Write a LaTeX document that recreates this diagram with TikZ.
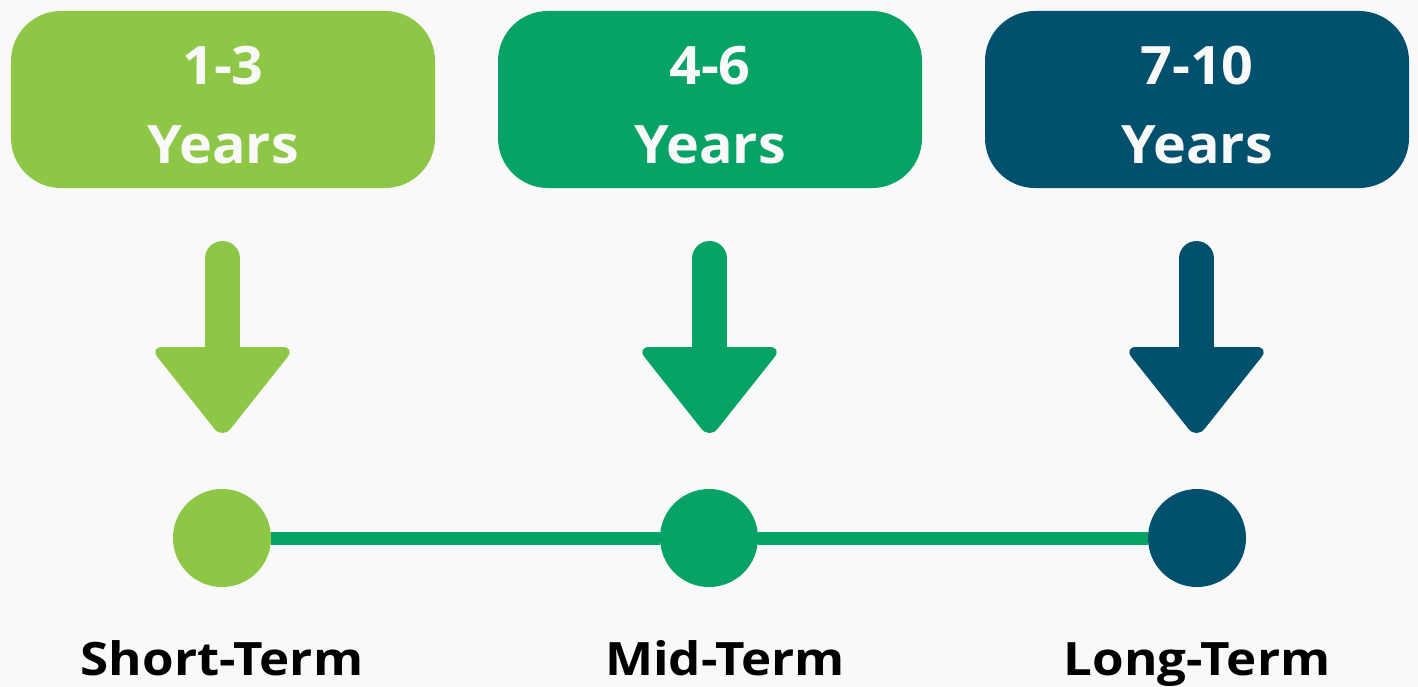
\documentclass[tikz,border=0pt]{standalone}
\usepackage{fontspec}
\setmainfont{Open Sans}
\newfontfamily\boxfont{Open Sans}[FakeStretch=1.05]
\newfontfamily\lblfont{Open Sans}[FakeStretch=1.11]
\definecolor{cA}{HTML}{8DC745}
\definecolor{cB}{HTML}{07A265}
\definecolor{cC}{HTML}{00506E}
\definecolor{bg}{HTML}{F9F9F9}
\begin{document}
\begin{tikzpicture}[x=1bp,y=-1bp,
  box/.style={rounded corners=50bp, minimum width=424bp, minimum height=177bp, inner sep=0pt},
  boxtext/.style={anchor=base, text=bg, font=\boxfont\fontsize{53bp}{60bp}\selectfont\bfseries, inner sep=0pt},
  dot/.style={circle, minimum size=98bp, inner sep=0pt},
  label/.style={anchor=base, text=black, font=\lblfont\fontsize{46bp}{54bp}\selectfont\bfseries, inner sep=0pt},
  shaft/.style={line width=35bp, line cap=round},
  head/.style={rounded corners=13bp}
]
\fill[bg] (0,0) rectangle (1418,687);
\useasboundingbox (0,0) rectangle (1418,687);

% boxes
\node[box, fill=cA] (b1) at (223,99.5) {};
\node[box, fill=cB] (b2) at (710,99.5) {};
\node[box, fill=cC] (b3) at (1197,99.5) {};
\node[boxtext] (n1) at (223,85) {1-3};
\node[boxtext] (y1) at (223,163) {Years};
\node[boxtext] (n2) at (710,85) {4-6};
\node[boxtext] (y2) at (710,163) {Years};
\node[boxtext] (n3) at (1197,85) {7-10};
\node[boxtext] (y3) at (1197,163) {Years};

% arrows
\foreach \x/\c in {222.5/cA, 709.5/cB, 1196.5/cC}{
  \draw[shaft, \c] (\x,258.5) -- (\x,370);
  \fill[head, \c] (\x-73,347) -- (\x+73,347) -- (\x,439) -- cycle;
}

% timeline
\node[dot, fill=cA] (d1) at (222,538) {};
\node[dot, fill=cB] (d2) at (709,538) {};
\node[dot, fill=cC] (d3) at (1197,538) {};
\draw[cB, line width=13bp] (d1.east) -- (d2.west);
\draw[cB, line width=13bp] (d2.east) -- (d3.west);

\node[label] (l1) at (222,675) {Short-Term};
\node[label] (l2) at (725,675) {Mid-Term};
\node[label] (l3) at (1197,675) {Long-Term};
\end{tikzpicture}
\end{document}
